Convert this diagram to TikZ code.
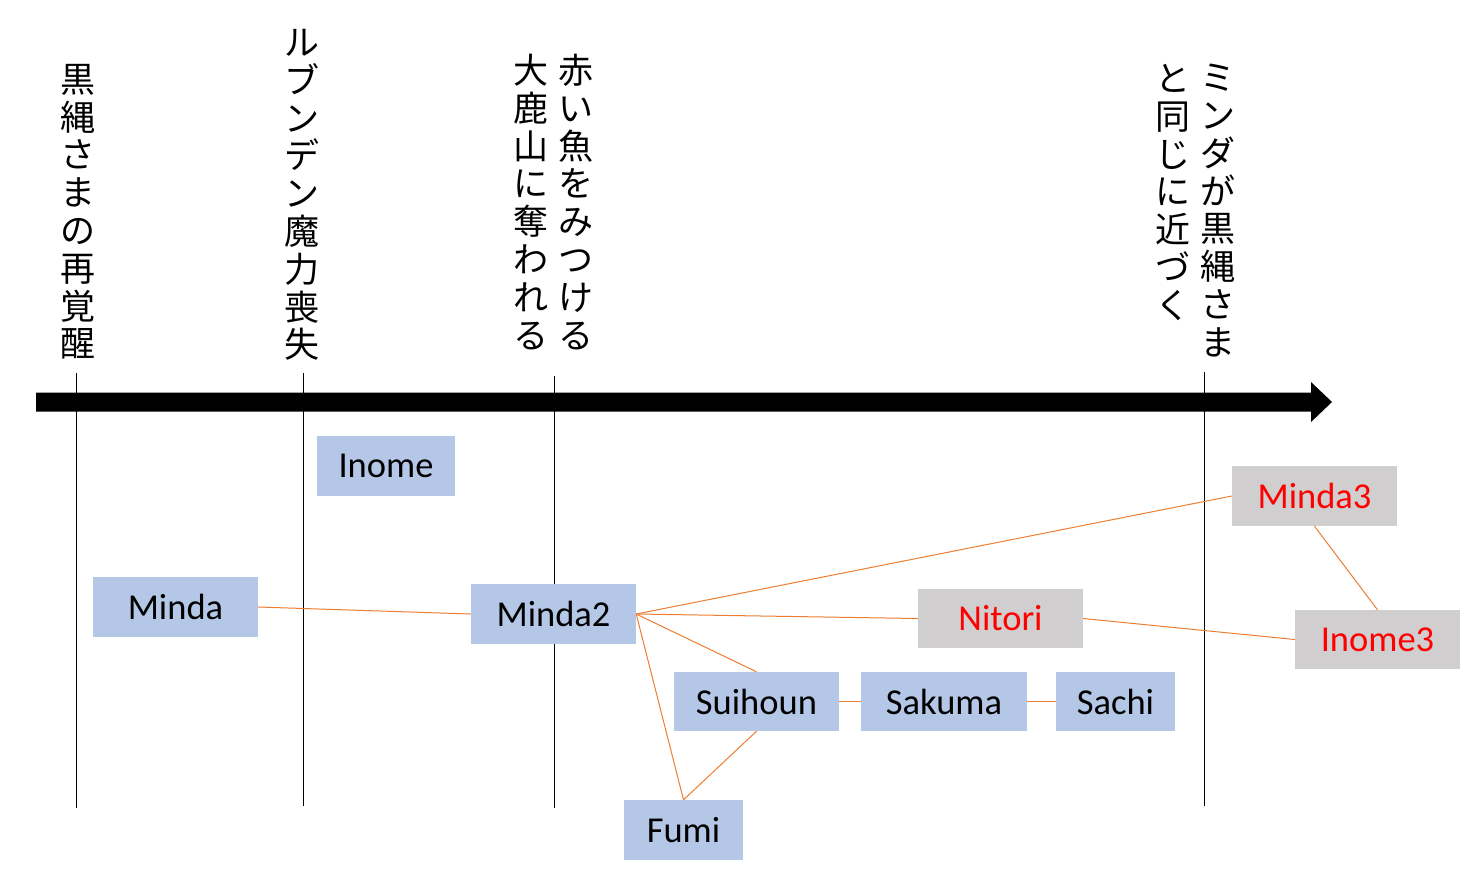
\documentclass[tikz,border=0pt]{standalone}
\usepackage{fontspec}
\setmainfont{Carlito}
\newfontfamily\jpfont{Noto Sans CJK JP}
\definecolor{boxblue}{HTML}{B4C7E7}
\definecolor{boxgray}{HTML}{D0CECE}
\definecolor{conorange}{HTML}{ED7D31}
\definecolor{txtred}{HTML}{FF0000}
\begin{document}
\begin{tikzpicture}[x=1pt,y=-1pt,
  bluebox/.style={fill=boxblue,draw=none,inner sep=0pt,font=\fontsize{36.5}{40}\selectfont,text=black},
  graybox/.style={fill=boxgray,draw=none,inner sep=0pt,font=\fontsize{36.5}{40}\selectfont,text=txtred},
  conn/.style={draw=conorange,line width=1pt},
  tick/.style={draw=black,line width=1pt},
  vtext/.style={anchor=north,inner sep=0pt,align=center,font=\jpfont\fontsize{35}{37.8}\selectfont}]
\useasboundingbox (0,0) rectangle (1474,876);
% main arrow
\fill[black] (36,392.5) -- (1311,392.5) -- (1311,382) -- (1332,402) -- (1311,422) -- (1311,411.5) -- (36,411.5) -- cycle;
% ticks
\coordinate (t1a) at (76,373); \coordinate (t1b) at (76,808);
\coordinate (t2a) at (303,373); \coordinate (t2b) at (303,806);
\coordinate (t3a) at (554,376); \coordinate (t3b) at (554,808);
\coordinate (t4a) at (1204,372); \coordinate (t4b) at (1204,806);
\draw[tick] (t1a) -- (t1b);
\draw[tick] (t2a) -- (t2b);
\draw[tick] (t3a) -- (t3b);
\draw[tick] (t4a) -- (t4b);
% vertical labels
\node[vtext] (l1) at (78,64) {黒\\縄\\さ\\ま\\の\\再\\覚\\醒};
\node[vtext] (l2) at (302,29) {ル\\ブ\\ン\\デ\\ン\\魔\\力\\喪\\失};
\node[vtext] (l3a) at (576,54) {赤\\い\\魚\\を\\み\\つ\\け\\る};
\node[vtext] (l3b) at (531,54) {大\\鹿\\山\\に\\奪\\わ\\れ\\る};
\node[vtext] (l4a) at (1218,64) {ミ\\ン\\ダ\\が\\黒\\縄\\さ\\ま};
\node[vtext] (l4b) at (1173,64) {と\\同\\じ\\に\\近\\づ\\く};
% boxes
\node[bluebox,minimum width=138,minimum height=60] (inome) at (386,466) {Inome};
\node[bluebox,minimum width=165,minimum height=60] (minda) at (175.5,607) {Minda};
\node[bluebox,minimum width=165,minimum height=60] (minda2) at (553.5,614) {Minda2};
\node[bluebox,minimum width=165,minimum height=59] (suihoun) at (756.5,701.5) {Suihoun};
\node[bluebox,minimum width=166,minimum height=59] (sakuma) at (944,701.5) {Sakuma};
\node[bluebox,minimum width=119,minimum height=59] (sachi) at (1115.5,701.5) {Sachi};
\node[bluebox,minimum width=119,minimum height=60] (fumi) at (683.5,830) {Fumi};
\node[graybox,minimum width=165,minimum height=59] (nitori) at (1000.5,618.5) {Nitori};
\node[graybox,minimum width=165,minimum height=60] (minda3) at (1314.5,496) {Minda3};
\node[graybox,minimum width=165,minimum height=59] (inome3) at (1377.5,639.5) {Inome3};
% connectors
\draw[conn] (minda.east) -- (minda2.west);
\draw[conn] (minda2.east) -- (minda3.west);
\draw[conn] (minda2.east) -- (nitori.west);
\draw[conn] (minda2.east) -- (suihoun.north);
\draw[conn] (minda2.east) -- (fumi.north);
\draw[conn] (suihoun.south) -- (fumi.north);
\draw[conn] (suihoun.east) -- (sakuma.west);
\draw[conn] (sakuma.east) -- (sachi.west);
\draw[conn] (nitori.east) -- (inome3.west);
\draw[conn] (minda3.south) -- (inome3.north);
\end{tikzpicture}
\end{document}
